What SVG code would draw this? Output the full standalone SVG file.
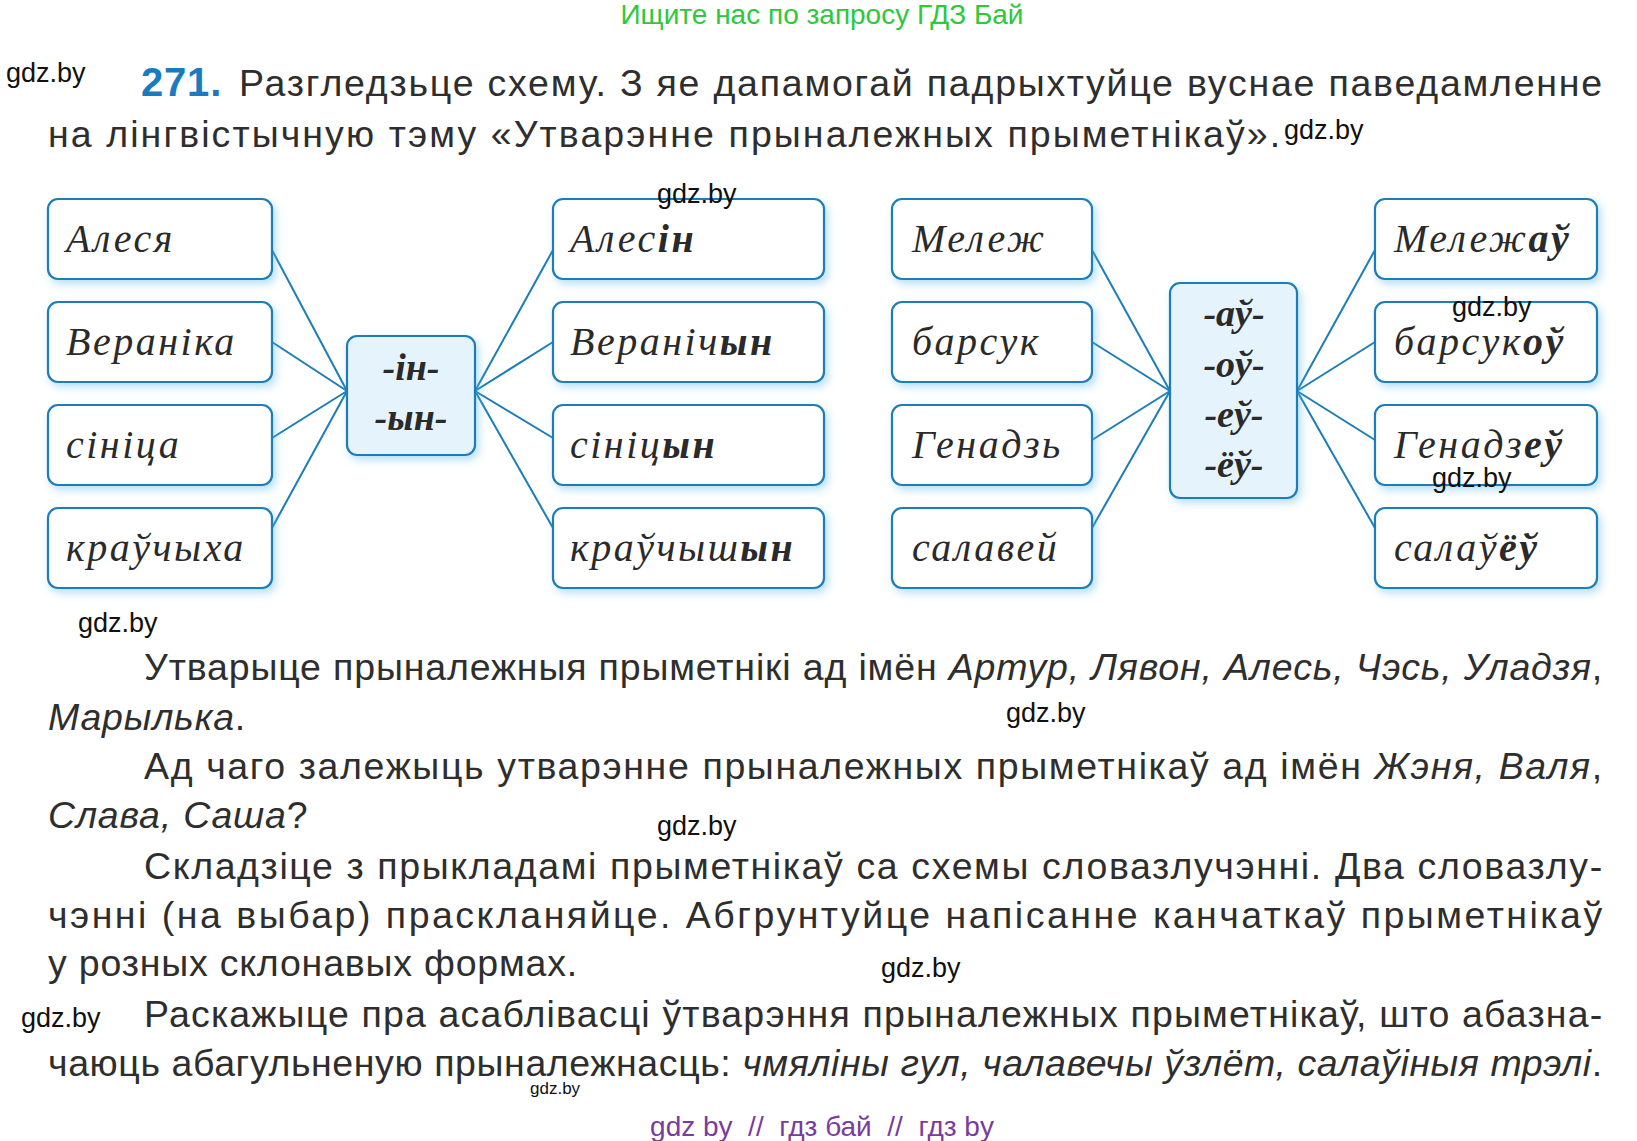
<svg xmlns="http://www.w3.org/2000/svg" width="1637" height="1141" viewBox="0 0 1637 1141">
<style>
.bg{fill:#fff}
.box{fill:#fff;stroke:#1b7db8;stroke-width:2.2;filter:url(#glow)}
.mid{fill:#e4f3fc;stroke:#1b7db8;stroke-width:2.2;filter:url(#glow)}
.w{font-family:"Liberation Serif","DejaVu Serif",serif;font-style:italic;font-size:40px;fill:#2a2a2a;letter-spacing:2.5px}
.b{font-weight:bold}
.c{font-family:"Liberation Serif","DejaVu Serif",serif;font-style:italic;font-weight:bold;font-size:38px;fill:#2a2a2a;text-anchor:middle}
.t{font-family:"Liberation Sans","Arial",sans-serif;font-size:37.5px;fill:#2e2e2e;letter-spacing:0.8px}
.i{font-style:italic}
.wm{font-family:"Liberation Sans","Arial",sans-serif;font-size:27px;fill:#111}
.conn line{stroke:#1b7db8;stroke-width:2}
</style>
<defs>
<filter id="glow" x="-20%" y="-30%" width="140%" height="160%">
<feDropShadow dx="3" dy="4" stdDeviation="4" flood-color="#5ab8ec" flood-opacity="0.45"/>
</filter>
</defs>
<rect class="bg" width="1637" height="1141"/>
<text x="822" y="24" text-anchor="middle" font-family="Liberation Sans, Arial, sans-serif" font-size="28" fill="#2ec83a">Ищите нас по запросу ГДЗ Бай</text>
<text class="wm" x="6" y="82">gdz.by</text>
<text class="t" x="141" y="96"><tspan font-weight="bold" fill="#1a7bc0" font-size="40">271.</tspan></text>
<text class="t" x="239" y="96" textLength="1364" lengthAdjust="spacing">Разгледзьце схему. З яе дапамогай падрыхтуйце вуснае паведамленне</text>
<text class="t" x="48" y="147" textLength="1233" lengthAdjust="spacing">на лінгвістычную тэму «Утварэнне прыналежных прыметнікаў».</text>
<text class="wm" x="1284" y="139">gdz.by</text>

<g class="conn">
<line x1="272" y1="250" x2="347" y2="391"/><line x1="272" y1="342" x2="347" y2="391"/><line x1="272" y1="438" x2="347" y2="391"/><line x1="272" y1="528" x2="347" y2="391"/>
<line x1="475" y1="391" x2="553" y2="250"/><line x1="475" y1="391" x2="553" y2="342"/><line x1="475" y1="391" x2="553" y2="438"/><line x1="475" y1="391" x2="553" y2="528"/>
<line x1="1092" y1="250" x2="1170" y2="391"/><line x1="1092" y1="342" x2="1170" y2="391"/><line x1="1092" y1="440" x2="1170" y2="391"/><line x1="1092" y1="528" x2="1170" y2="391"/>
<line x1="1297" y1="391" x2="1375" y2="250"/><line x1="1297" y1="391" x2="1375" y2="342"/><line x1="1297" y1="391" x2="1375" y2="440"/><line x1="1297" y1="391" x2="1375" y2="528"/>
</g>

<g id="n-alesia"><rect class="box" x="48" y="199" width="224" height="80" rx="10"/><text class="w" x="66" y="252">Алеся</text></g>
<g id="n-veranika"><rect class="box" x="48" y="302" width="224" height="80" rx="10"/><text class="w" x="66" y="355">Вераніка</text></g>
<g id="n-sinica"><rect class="box" x="48" y="405" width="224" height="80" rx="10"/><text class="w" x="66" y="458">сініца</text></g>
<g id="n-kraychykha"><rect class="box" x="48" y="508" width="224" height="80" rx="10"/><text class="w" x="66" y="561">краўчыха</text></g>

<g id="n-in"><rect class="mid" x="347" y="336" width="128" height="119" rx="10"/><text class="c" x="411" y="380">-ін-</text><text class="c" x="411" y="430">-ын-</text></g>

<g id="n-alesin"><rect class="box" x="553" y="199" width="271" height="80" rx="10"/><text class="w" x="570" y="252">Алес<tspan class="b">ін</tspan></text></g>
<g id="n-veranichyn"><rect class="box" x="553" y="302" width="271" height="80" rx="10"/><text class="w" x="570" y="355">Вераніч<tspan class="b">ын</tspan></text></g>
<g id="n-sinicyn"><rect class="box" x="553" y="405" width="271" height="80" rx="10"/><text class="w" x="570" y="458">сініц<tspan class="b">ын</tspan></text></g>
<g id="n-kraychyshyn"><rect class="box" x="553" y="508" width="271" height="80" rx="10"/><text class="w" x="570" y="561">краўчыш<tspan class="b">ын</tspan></text></g>
<text class="wm" x="657" y="203">gdz.by</text>

<g id="n-melezh"><rect class="box" x="892" y="199" width="200" height="80" rx="10"/><text class="w" x="912" y="252">Мележ</text></g>
<g id="n-barsuk"><rect class="box" x="892" y="302" width="200" height="80" rx="10"/><text class="w" x="912" y="355">барсук</text></g>
<g id="n-genadz"><rect class="box" x="892" y="405" width="200" height="80" rx="10"/><text class="w" x="912" y="458">Генадзь</text></g>
<g id="n-salavey"><rect class="box" x="892" y="508" width="200" height="80" rx="10"/><text class="w" x="912" y="561">салавей</text></g>

<g id="n-ay"><rect class="mid" x="1170" y="283" width="127" height="215" rx="10"/>
<text class="c" x="1234" y="326">-аў-</text><text class="c" x="1234" y="377">-оў-</text><text class="c" x="1234" y="427">-еў-</text><text class="c" x="1234" y="477">-ёў-</text></g>

<g id="n-melezhay"><rect class="box" x="1375" y="199" width="222" height="80" rx="10"/><text class="w" x="1394" y="252">Мележ<tspan class="b">аў</tspan></text></g>
<g id="n-barsukoy"><rect class="box" x="1375" y="302" width="222" height="80" rx="10"/><text class="w" x="1394" y="355">барсук<tspan class="b">оў</tspan></text></g>
<g id="n-genadzey"><rect class="box" x="1375" y="405" width="222" height="80" rx="10"/><text class="w" x="1394" y="458">Генадз<tspan class="b">еў</tspan></text></g>
<g id="n-salayoy"><rect class="box" x="1375" y="508" width="222" height="80" rx="10"/><text class="w" x="1394" y="561">салаў<tspan class="b">ёў</tspan></text></g>
<text class="wm" x="1452" y="316">gdz.by</text>
<text class="wm" x="1432" y="487">gdz.by</text>

<text class="wm" x="78" y="632">gdz.by</text>
<text class="t" x="144" y="680" textLength="1459" lengthAdjust="spacing">Утварыце прыналежныя прыметнікі ад імён <tspan class="i">Артур, Лявон, Алесь, Чэсь, Уладзя</tspan>,</text>
<text class="t" x="48" y="730"><tspan class="i">Марылька</tspan>.</text>
<text class="wm" x="1006" y="722">gdz.by</text>
<text class="t" x="144" y="779" textLength="1459" lengthAdjust="spacing">Ад чаго залежыць утварэнне прыналежных прыметнікаў ад імён <tspan class="i">Жэня, Валя</tspan>,</text>
<text class="t" x="48" y="828"><tspan class="i">Слава, Саша</tspan>?</text>
<text class="wm" x="657" y="835">gdz.by</text>
<text class="t" x="144" y="879" textLength="1459" lengthAdjust="spacing">Складзіце з прыкладамі прыметнікаў са схемы словазлучэнні. Два словазлу-</text>
<text class="t" x="48" y="928" textLength="1555" lengthAdjust="spacing">чэнні (на выбар) праскланяйце. Абгрунтуйце напісанне канчаткаў прыметнікаў</text>
<text class="t" x="48" y="976">у розных склонавых формах.</text>
<text class="wm" x="881" y="977">gdz.by</text>
<text class="wm" x="21" y="1027">gdz.by</text>
<text class="t" x="144" y="1027" textLength="1459" lengthAdjust="spacing">Раскажыце пра асаблівасці ўтварэння прыналежных прыметнікаў, што абазна-</text>
<text class="t" x="48" y="1076" textLength="1555" lengthAdjust="spacing">чаюць абагульненую прыналежнасць: <tspan class="i">чмяліны гул, чалавечы ўзлёт, салаўіныя трэлі</tspan>.</text>
<text x="530" y="1094" font-family="Liberation Sans, Arial, sans-serif" style="font-size:17px" fill="#111">gdz.by</text>
<text x="822" y="1136" text-anchor="middle" font-family="Liberation Sans, Arial, sans-serif" font-size="28" fill="#7a3b9f" xml:space="preserve">gdz by  //  гдз бай  //  гдз by</text>
</svg>
